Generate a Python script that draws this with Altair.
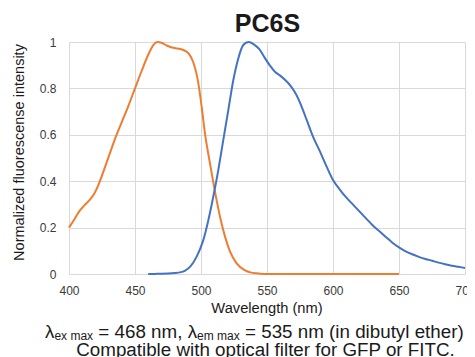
import altair as alt
import pandas as pd

# Excitation spectrum (orange)
ex_wl = [400, 404, 408, 412, 416, 419, 422, 426, 430, 435, 440, 445, 450, 455, 460, 464,
         467, 470, 474, 478, 482, 485, 488, 491, 494, 498, 500.5, 503, 506.8, 510.6, 514.4,
         518.2, 522, 527, 533, 538, 542, 548, 555, 560, 600, 650]
ex_val = [0.20, 0.235, 0.272, 0.298, 0.322, 0.345, 0.38, 0.44, 0.505, 0.585, 0.655, 0.725, 0.80,
          0.875, 0.945, 0.988, 1.0, 0.997, 0.985, 0.976, 0.972, 0.969, 0.962, 0.948, 0.915, 0.822,
          0.721, 0.606, 0.477, 0.355, 0.247, 0.161, 0.096, 0.046, 0.017, 0.006, 0.003, 0.0005,
          0.0, 0.0, 0.0, 0.0]

# Emission spectrum (blue)
em_wl = [460, 465, 470, 475, 480, 484, 488, 492, 496.7, 501.8, 505.6, 509.3, 513.1, 516.9,
         520.7, 524.5, 528.3, 532, 536, 540, 544, 548, 552, 556, 560, 564, 568, 572, 576, 580,
         585, 590, 595, 600, 605, 610, 615, 620, 625, 630, 635, 640, 645, 650, 655, 660, 665,
         670, 675, 680, 685, 690, 695, 700]
em_val = [0.0, 0.0005, 0.001, 0.002, 0.004, 0.007, 0.015, 0.033, 0.075, 0.147, 0.233, 0.333,
          0.448, 0.578, 0.707, 0.836, 0.93, 0.987, 1.0, 0.99, 0.97, 0.935, 0.90, 0.872, 0.855,
          0.835, 0.81, 0.775, 0.725, 0.665, 0.59, 0.53, 0.465, 0.405, 0.365, 0.33, 0.30, 0.27,
          0.24, 0.21, 0.185, 0.16, 0.135, 0.115, 0.098, 0.085, 0.074, 0.065, 0.057, 0.049, 0.042,
          0.036, 0.031, 0.026]

x_ticks = [400, 450, 500, 550, 600, 650, 700]
y_ticks = [0, 0.2, 0.4, 0.6, 0.8, 1]

title_text = "PC6S"
x_title = "Wavelength (nm)"
y_title = "Normalized fluorescense intensity"
caption2 = "Compatible with optical filter for GFP or FITC."
# caption line 1 segments: (text, is_subscript)
caption1 = [("λ", False), ("ex max", True), ("= 468 nm,", False), ("λ", False),
            ("em max", True), ("= 535 nm (in dibutyl ether)", False)]
# layout x offsets (px, relative to plot's left edge) for the caption segments
caption1_x = [-24, -14.6, 29.3, 118.7, 128.1, 176.0]

FONT = "Liberation Sans"
ORANGE = "#ED7D31"
BLUE = "#4472C4"

df = pd.concat([
    pd.DataFrame({"wl": ex_wl, "v": ex_val, "s": "ex"}),
    pd.DataFrame({"wl": em_wl, "v": em_val, "s": "em"}),
])

lines = alt.Chart(df).mark_line(strokeWidth=2, interpolate="monotone").encode(
    x=alt.X("wl:Q", scale=alt.Scale(domain=[400, 700], nice=False),
            axis=alt.Axis(values=x_ticks, title=None, grid=True, ticks=False, domain=False,
                          labelFlush=False, labelOverlap=False,
                          labelPadding=11, labelFontSize=12, labelFont=FONT,
                          labelColor="#3a3a3a", gridColor="#d9d9d9")),
    y=alt.Y("v:Q", scale=alt.Scale(domain=[0, 1], nice=False),
            axis=alt.Axis(values=y_ticks, format="~g", title=None, grid=True, ticks=False,
                          domain=False, labelFlush=False, labelOverlap=False,
                          labelPadding=13, labelFontSize=12, labelFont=FONT,
                          labelColor="#3a3a3a", gridColor="#d9d9d9")),
    color=alt.Color("s:N", scale=alt.Scale(domain=["ex", "em"], range=[ORANGE, BLUE]), legend=None),
    detail="s:N",
)

def label(text, x, y, size, **kw):
    return alt.Chart(pd.DataFrame({"t": [text]})).mark_text(
        font=FONT, fontSize=size, color="#1a1a1a", **kw
    ).encode(text="t:N", x=alt.value(x), y=alt.value(y))

title = label(title_text, 198.5, -9.7, 25, fontWeight="bold", align="center", baseline="alphabetic")
xt = label(x_title, 198, 270.7, 14.7, align="center", baseline="alphabetic")
yt = label(y_title, -49, 110.5, 14.5, angle=270, align="center", baseline="middle")
cap2 = label(caption2, 196.5, 313.5, 18.8, align="center", baseline="alphabetic")

cap1_layers = []
for (txt, sub), xx in zip(caption1, caption1_x):
    if sub:
        cap1_layers.append(label(txt, xx, 297.5, 12, align="left", baseline="alphabetic"))
    else:
        cap1_layers.append(label(txt, xx, 296, 18.8, align="left", baseline="alphabetic"))

chart = alt.layer(lines, title, xt, yt, cap2, *cap1_layers).properties(
    width=396, height=232,
    padding={"left": 61, "top": 34, "right": 2, "bottom": 86},
    autosize=alt.AutoSizeParams(type="none"),
).configure_view(stroke=None)

chart.save("out.html", embed_options={"renderer": "svg", "actions": False})
